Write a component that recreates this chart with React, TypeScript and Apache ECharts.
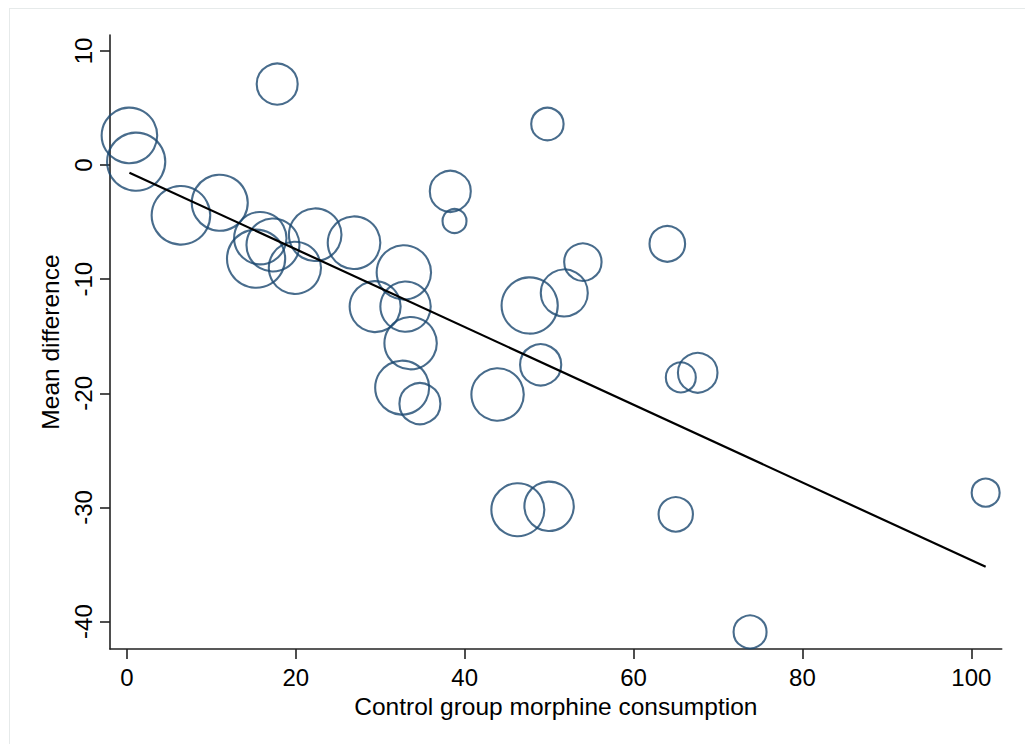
import React, { useEffect, useRef } from "react";
import * as echarts from "echarts";

// Control group morphine consumption (x) for each study
const controlMorphine = [
  0.3, 1.1, 17.8, 6.4, 11.0, 15.8, 15.3, 17.3, 19.9, 22.3, 26.9, 32.8, 29.4, 33.0,
  33.6, 32.6, 34.7, 38.3, 38.8, 43.9, 46.3, 47.7, 49.0, 49.8, 50.0, 51.8, 54.0,
  64.0, 65.0, 65.6, 67.6, 73.8, 101.7,
];
// Mean difference (y) for each study
const meanDifference = [
  2.6, 0.3, 7.1, -4.4, -3.3, -6.4, -8.2, -7.0, -9.0, -6.1, -6.8, -9.4, -12.4, -12.4,
  -15.6, -19.5, -20.9, -2.3, -4.9, -20.1, -30.2, -12.3, -17.5, 3.6, -29.9, -11.2,
  -8.5, -6.9, -30.6, -18.6, -18.2, -40.9, -28.7,
];
// Relative study weight (bubble area)
const studyWeight = [
  80, 87.6, 44.1, 88.8, 81.2, 71.3, 87.6, 72.9, 70.8, 71.8, 71.8, 76.7, 67.6, 66,
  71.3, 75.6, 44.1, 44.1, 15.6, 71.3, 72.9, 81.8, 44.5, 27.9, 63.5, 57.6, 36.9,
  33.5, 31.3, 24, 41.2, 28.9, 21,
];
// Fitted line end points
const fitX = [0.3, 101.7];
const fitY = [-0.66, -35.2];

const xTicks = [0, 20, 40, 60, 80, 100];
const yTicks = [-40, -30, -20, -10, 0, 10];

const FONT = "'Liberation Sans', Arial, Helvetica, sans-serif";
const AXIS_COLOR = "#222";
const MARKER_COLOR = "#1a476f";

export default function App() {
  const ref = useRef<HTMLDivElement>(null);

  useEffect(() => {
    if (!ref.current) return;
    const chart = echarts.init(ref.current, undefined, { renderer: "svg" });
    const scatterData = controlMorphine.map((x, i) => [x, meanDifference[i], studyWeight[i]]);
    const lineData = fitX.map((x, i) => [x, fitY[i]]);

    const axisCommon = {
      type: "value" as const,
      splitLine: { show: false },
      axisLine: { show: true, onZero: false, lineStyle: { color: AXIS_COLOR, width: 1.6 } },
      axisTick: { show: true, inside: false, length: 10, lineStyle: { color: AXIS_COLOR, width: 1.6 } },
      nameLocation: "middle" as const,
      nameTextStyle: { fontSize: 24.5, color: "#000", fontFamily: FONT },
    };

    chart.setOption({
      animation: false,
      grid: { left: 110, right: 23.3, top: 35, bottom: 95, containLabel: false, outerBoundsMode: "none" },
      xAxis: {
        ...axisCommon,
        min: -2,
        max: 103.6,
        name: "Control group morphine consumption",
        nameGap: 41,
        axisTick: { ...axisCommon.axisTick, customValues: xTicks },
        axisLabel: { customValues: xTicks, fontSize: 24, color: "#000", fontFamily: FONT, margin: 16 },
      },
      yAxis: {
        ...axisCommon,
        min: -42.4,
        max: 11.4,
        name: "Mean difference",
        nameGap: 43,
        axisTick: { ...axisCommon.axisTick, customValues: yTicks },
        axisLabel: { customValues: yTicks, rotate: 90, fontSize: 24, color: "#000", fontFamily: FONT, margin: 15 },
      },
      series: [
        {
          type: "scatter",
          data: scatterData,
          symbol: "circle",
          symbolSize: (v: number[]) => 2 * Math.sqrt(v[2] * 10) - 1,
          itemStyle: { color: "transparent", borderColor: MARKER_COLOR, borderWidth: 2.1 },
          emphasis: { disabled: true },
          silent: true,
          z: 2,
        },
        {
          type: "line",
          data: lineData,
          showSymbol: false,
          symbol: "none",
          lineStyle: { color: "#000", width: 2.2 },
          emphasis: { disabled: true },
          silent: true,
          z: 3,
        },
      ],
    });
    return () => chart.dispose();
  }, []);

  return (
    <>
      <div
        style={{
          position: "absolute",
          left: 9,
          top: 8,
          width: 1016,
          height: 736,
          borderTop: "1px solid #e6eaea",
          borderLeft: "1px solid #e6eaea",
          boxSizing: "border-box",
        }}
      />
      <div ref={ref} style={{ position: "absolute", left: 0, top: 0, width: 1025, height: 744 }} />
    </>
  );
}
